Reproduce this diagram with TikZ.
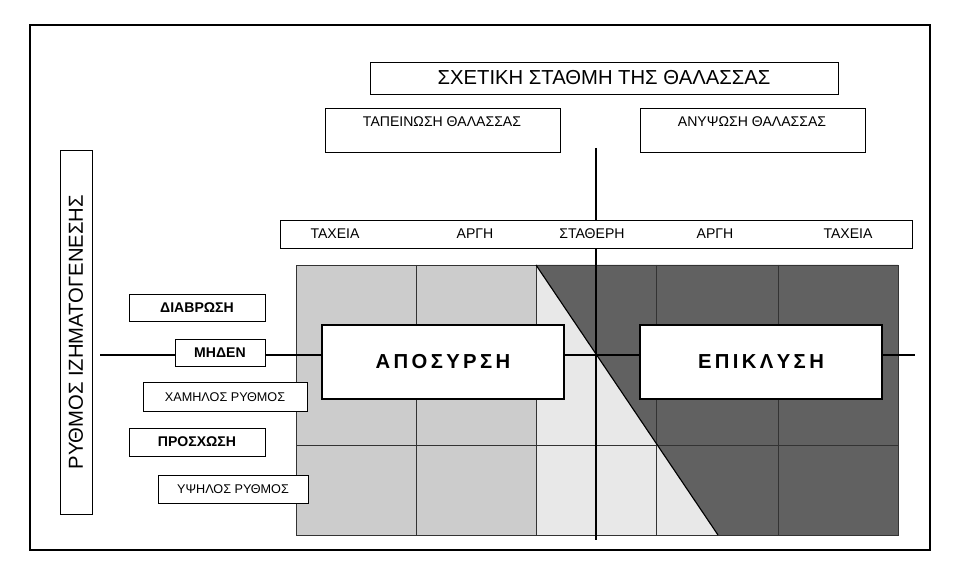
\documentclass[tikz,border=0pt]{standalone}
\usepackage{fontspec}
\setmainfont{Liberation Sans}
\usetikzlibrary{positioning}
\begin{document}
\begin{tikzpicture}[x=0.025cm,y=-0.025cm,
        lbox/.style={draw,fill=white,inner sep=2pt,font=\small},
        bbox/.style={draw,fill=white,line width=0.8pt,font=\Large\bfseries}]
    \useasboundingbox (0,0) rectangle (976,569);
    \draw[line width=0.8pt] (30,25) rectangle (930,550);
    % grid fills
    \fill[black!20] (296,265) rectangle (536,535);
    \fill[black!9] (536,265) rectangle (718,535);
    \fill[black!62] (536,265) -- (898,265) -- (898,535) -- (718,535) -- cycle;
    \foreach \x in {416,536,656,778}
        \draw[black!80] (\x,265) -- (\x,535);
    \foreach \y in {445}
        \draw[black!80] (296,\y) -- (898,\y);
    \draw[black!80] (296,265) rectangle (898,535);
    \draw[line width=0.8pt] (536,265) -- (718,535);
    % axes
    \coordinate (vtop) at (596,148);
    \coordinate (vbot) at (596,540);
    \coordinate (hleft) at (100,355);
    \coordinate (hright) at (915,355);
    \draw[line width=1pt] (vtop) -- (vbot);
    \draw[line width=1pt] (hleft) -- (hright);
    % top labels
    \node (title) [lbox,minimum width=11.7cm,minimum height=0.8cm,font=\Large] at (604,78) {ΣΧΕΤΙΚΗ ΣΤΑΘΜΗ ΤΗΣ ΘΑΛΑΣΣΑΣ};
    \draw[fill=white] (325,108) rectangle (560,152);
    \node (tapeinosi) [font=\normalsize] at (442,122) {ΤΑΠΕΙΝΩΣΗ ΘΑΛΑΣΣΑΣ};
    \draw[fill=white] (640,108) rectangle (865,152);
    \node (anypsosi) [font=\normalsize] at (752,122) {ΑΝΥΨΩΣΗ ΘΑΛΑΣΣΑΣ};
    \draw[fill=white] (280,220) rectangle (912,248);
    \foreach \x/\t in {335/ΤΑΧΕΙΑ,475/ΑΡΓΗ,592/ΣΤΑΘΕΡΗ,715/ΑΡΓΗ,848/ΤΑΧΕΙΑ}
        \node[font=\normalsize] at (\x,234) {\t};
    % left labels
    \node (rythmos) [lbox,rotate=90,minimum width=9.1cm,minimum height=0.8cm,font=\Large] at (76,332) {ΡΥΘΜΟΣ ΙΖΗΜΑΤΟΓΕΝΕΣΗΣ};
    \node (diavrosi) [lbox,font=\normalsize\bfseries,minimum width=3.4cm,minimum height=0.68cm] at (197,308) {ΔΙΑΒΡΩΣΗ};
    \node (miden) [lbox,font=\normalsize\bfseries,minimum width=2.25cm,minimum height=0.68cm] at (220,353) {ΜΗΔΕΝ};
    \node (xamilos) [lbox,font=\small,minimum width=4.1cm,minimum height=0.72cm] at (225,397) {ΧΑΜΗΛΟΣ ΡΥΘΜΟΣ};
    \node (prosxosi) [lbox,font=\normalsize\bfseries,minimum width=3.4cm,minimum height=0.7cm] at (197,442) {ΠΡΟΣΧΩΣΗ};
    \node (ypsilos) [lbox,font=\small,minimum width=3.75cm,minimum height=0.7cm] at (233,489) {ΥΨΗΛΟΣ ΡΥΘΜΟΣ};
    % big boxes
    \node (aposyrsi) [bbox,minimum width=6.05cm,minimum height=1.85cm] at (443,362) {Α\,Π\,Ο\,Σ\,Υ\,Ρ\,Σ\,Η};
    \node (epiklysi) [bbox,minimum width=6.05cm,minimum height=1.85cm] at (761,362) {Ε\,Π\,Ι\,Κ\,Λ\,Υ\,Σ\,Η};
\end{tikzpicture}
\end{document}
